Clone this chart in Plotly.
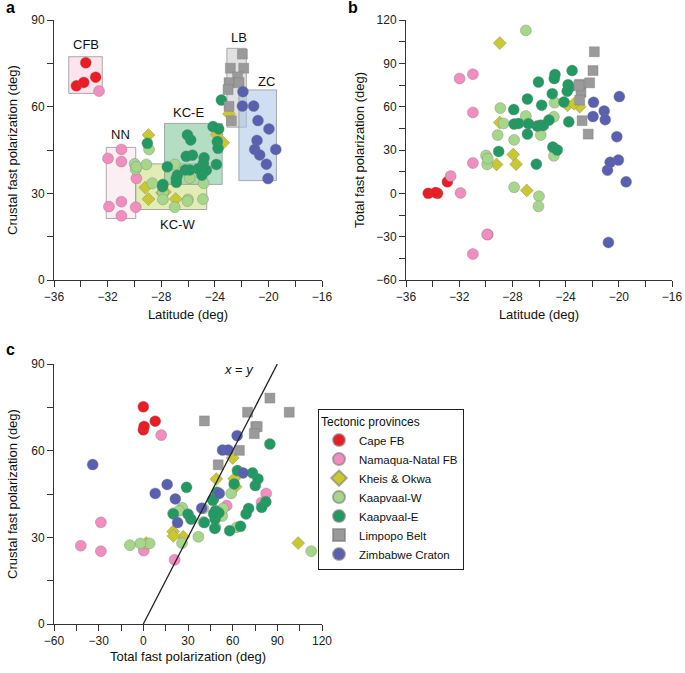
import plotly.graph_objects as go

# Station values per tectonic province: latitude, crustal and total fast polarization (deg)
CFB_LAT = [-33.63, -34.33, -33.78, -32.89]
CFB_CRUST = [75.2, 67.2, 68.4, 70.2]
CFB_TOTAL = [0.0, 0.0, 0.5, 8.0]

NN_LAT = [-32.64, -30.97, -31.97, -30.97, -29.85, -30.97, -31.9, -29.9, -30.97]
NN_CRUST = [65.4, 45.2, 42.1, 41.0, 35.2, 27.1, 25.4, 25.2, 22.2]
NN_TOTAL = [12.0, 82.5, 79.5, 56.0, -28.5, -42.0, 0.3, -28.5, 21.0]

KO_LAT = [-28.95, -28.95, -26.92, -29.19, -27.94, -23.85, -22.94, -23.37, -27.72]
KO_CRUST = [50.2, 28.0, 28.0, 32.0, 30.2, 50.3, 57.5, 47.5, 30.5]
KO_TOTAL = [49.0, 104.0, 2.0, 20.0, 26.8, 61.0, 60.0, 62.0, 20.2]

KW_LAT = [-28.91, -29.98, -29.9, -29.85, -28.66, -27.87, -27.87, -26.99, -26.0, -26.04,
          -24.88, -24.83, -25.87, -29.11, -24.88, -26.99]
KW_CRUST = [45.2, 40.2, 38.3, 39.2, 33.5, 30.2, 27.9, 25.2, 27.9, 27.3,
            28.0, 33.5, 35.3, 40.0, 37.4, 40.0]
KW_TOTAL = [59.0, 26.2, 20.0, 24.0, 48.4, 37.0, 4.2, 112.8, -2.0, -9.0,
            26.0, 62.8, 40.3, 40.3, 53.0, 53.6]

KE_LAT = [-29.03, -23.51, -24.13, -23.71, -23.81, -26.04, -25.8, -24.8, -24.85, -23.76,
          -25.67, -25.0, -23.88, -27.9, -26.87, -27.87, -26.79, -27.54, -26.87, -24.96,
          -24.63, -26.2, -26.13, -25.25, -25.87]
KE_CRUST = [47.3, 62.3, 53.1, 52.3, 47.9, 50.2, 48.5, 42.3, 40.4, 45.6,
            43.2, 38.1, 40.0, 32.3, 33.8, 33.1, 36.3, 39.2, 35.1, 36.3,
            38.0, 38.1, 42.8, 38.5, 38.1]
KE_TOTAL = [29.0, 85.0, 63.2, 73.3, 75.2, 77.0, 61.0, 82.3, 79.5, 49.5,
            47.0, 69.0, 70.7, 58.0, 65.3, 48.0, 48.2, 48.4, 41.0, 32.0,
            30.0, 20.2, 46.6, 50.7, 47.2]

LB_LAT = [-21.94, -22.84, -21.84, -22.3, -22.94, -22.19, -23.01, -22.94, -22.76]
LB_CRUST = [78.2, 73.3, 73.3, 70.3, 68.3, 68.3, 65.9, 60.1, 55.1]
LB_TOTAL = [85.0, 70.0, 98.0, 41.0, 75.5, 76.5, 74.5, 64.5, 50.3]

ZC_LAT = [-21.9, -21.94, -21.1, -20.78, -19.96, -20.85, -21.02, -19.45, -20.65, -20.15, -20.03]
ZC_CRUST = [65.2, 60.2, 60.2, 55.2, 52.3, 48.3, 45.2, 45.2, 43.3, 40.1, 35.1]
ZC_TOTAL = [63.0, 53.2, 57.0, -34.0, 67.0, 16.0, 51.0, 8.0, 21.5, 39.2, 23.0]

# Province boxes in panel a: label, lat min, lat max, crust min, crust max
BOX_LABELS = ["CFB", "NN", "KC-W", "KC-E", "LB", "ZC"]
BOX_LAT = [(-34.9, -32.4), (-32.1, -29.9), (-29.9, -24.6), (-27.75, -23.45), (-23.1, -21.65), (-22.2, -19.4)]
BOX_CRUST = [(64.6, 77.3), (21.3, 45.9), (24.4, 40.2), (33.1, 54.2), (52.9, 80.2), (34.4, 65.8)]
BOX_FILL = ["rgba(248,205,222,0.55)", "rgba(248,215,228,0.4)", "rgba(205,225,130,0.6)",
            "rgba(140,205,165,0.65)", "rgba(205,205,205,0.6)", "rgba(170,195,230,0.55)"]
LABEL_POS = [(-33.6, 81.5), (-31.05, 50.5), (-26.75, 19.3), (-26.0, 58.0), (-22.2, 83.8), (-20.15, 68.7)]

PROVINCES = [
    ("Cape FB", CFB_LAT, CFB_CRUST, CFB_TOTAL, "#EC1C24", "circle", 11),
    ("Namaqua-Natal FB", NN_LAT, NN_CRUST, NN_TOTAL, "#F28DBF", "circle", 11),
    ("Kheis & Okwa", KO_LAT, KO_CRUST, KO_TOTAL, "#C9C832", "diamond", 10),
    ("Kaapvaal-W", KW_LAT, KW_CRUST, KW_TOTAL, "#A6D68A", "circle", 11),
    ("Kaapvaal-E", KE_LAT, KE_CRUST, KE_TOTAL, "#209A62", "circle", 11),
    ("Limpopo Belt", LB_LAT, LB_CRUST, LB_TOTAL, "#9A9A9A", "square", 10),
    ("Zimbabwe Craton", ZC_LAT, ZC_CRUST, ZC_TOTAL, "#5A60B0", "circle", 11),
]

FONT = "Liberation Sans, Arial, Helvetica, sans-serif"
W, H = 685, 673

fig = go.Figure()

for name, lat, crust, total, color, symbol, size in PROVINCES:
    marker = dict(color=color, size=size, symbol=symbol,
                  line=dict(color="rgba(120,120,120,0.6)", width=0.6))
    fig.add_trace(go.Scatter(x=lat, y=crust, mode="markers", marker=marker, name=name,
                             xaxis="x", yaxis="y", showlegend=False, cliponaxis=False))
    fig.add_trace(go.Scatter(x=lat, y=total, mode="markers", marker=marker, name=name,
                             xaxis="x2", yaxis="y2", showlegend=False, cliponaxis=False))
    fig.add_trace(go.Scatter(x=total, y=crust, mode="markers", marker=marker, name=name,
                             xaxis="x3", yaxis="y3", showlegend=True, cliponaxis=False))

# x = y reference line
fig.add_trace(go.Scatter(x=[0, 90], y=[0, 90], mode="lines", line=dict(color="#222", width=1.3),
                         xaxis="x3", yaxis="y3", showlegend=False, hoverinfo="skip"))

for lab, (x0, x1), (y0, y1), fill, (lx, ly) in zip(BOX_LABELS, BOX_LAT, BOX_CRUST, BOX_FILL, LABEL_POS):
    fig.add_shape(type="rect", xref="x", yref="y", x0=x0, x1=x1, y0=y0, y1=y1,
                  fillcolor=fill, line=dict(color="rgba(150,150,150,0.8)", width=1), layer="below")
    fig.add_annotation(x=lx, y=ly, xref="x", yref="y", text=lab, showarrow=False,
                       font=dict(size=13, color="#111"))

fig.add_annotation(x=64, y=88, xref="x3", yref="y3", text="<i>x</i> = <i>y</i>", showarrow=False,
                   font=dict(size=13, color="#111"))

for txt, px, py in [("a", 4, 8), ("b", 346, 8), ("c", 4, 349)]:
    fig.add_annotation(x=px / W, y=1 - py / H, xref="paper", yref="paper", text=f"<b>{txt}</b>",
                       showarrow=False, xanchor="left", yanchor="middle",
                       font=dict(size=16, color="#000"))

axis_common = dict(showline=True, linecolor="#333", linewidth=1, ticks="outside", ticklen=6,
                   tickcolor="#333", showgrid=False, zeroline=False, automargin=False,
                   ticklabeloverflow="allow",
                   tickfont=dict(size=12, color="#222"), title_font=dict(size=13, color="#111"))

xa = (54 / W, 322 / W)
xb = (406 / W, 672 / W)
ytop = (1 - 280 / H, 1 - 20 / H)
ybot = (1 - 624 / H, 1 - 364 / H)


def minor(step):
    return dict(dtick=step, ticks="outside", ticklen=6, tickcolor="#333")


fig.update_layout(
    width=W,
    height=H,
    template="plotly_white",
    plot_bgcolor="white",
    paper_bgcolor="white",
    font=dict(family=FONT, color="#111"),
    margin=dict(l=0, r=0, t=0, b=0, autoexpand=False),
    xaxis=dict(domain=xa, anchor="y", range=[-36, -16], tick0=-36, dtick=4, minor=minor(2),
               title=dict(text="Latitude (deg)", standoff=6), **axis_common),
    yaxis=dict(domain=ytop, anchor="x", range=[0, 90], tick0=0, dtick=30, minor=minor(15),
               title=dict(text="Crustal fast polarization (deg)", standoff=10), **axis_common),
    xaxis2=dict(domain=xb, anchor="y2", range=[-36, -16], tick0=-36, dtick=4, minor=minor(2),
                title=dict(text="Latitude (deg)", standoff=6), **axis_common),
    yaxis2=dict(domain=ytop, anchor="x2", range=[-60, 120], tick0=-60, dtick=30, minor=minor(15),
                title=dict(text="Total fast polarization (deg)", standoff=8), **axis_common),
    xaxis3=dict(domain=xa, anchor="y3", range=[-60, 120], tick0=-60, dtick=30, minor=minor(15),
                title=dict(text="Total fast polarization (deg)", standoff=4), **axis_common),
    yaxis3=dict(domain=ybot, anchor="x3", range=[0, 90], tick0=0, dtick=30, minor=minor(15),
                title=dict(text="Crustal fast polarization (deg)", standoff=10), **axis_common),
    showlegend=True,
    legend=dict(
        title=dict(text="Tectonic provinces", font=dict(size=12)),
        x=318 / W, y=1 - 409 / H, xanchor="left", yanchor="top",
        bordercolor="#222", borderwidth=1, bgcolor="white",
        font=dict(size=11.5), itemsizing="constant", itemwidth=30, tracegroupgap=2,
    ),
)

# drop the browser's default 8px body margin so the figure sits at the page origin
fig.write_html("out.html", config={"displayModeBar": False},
               post_script="document.body.style.margin='0';")
